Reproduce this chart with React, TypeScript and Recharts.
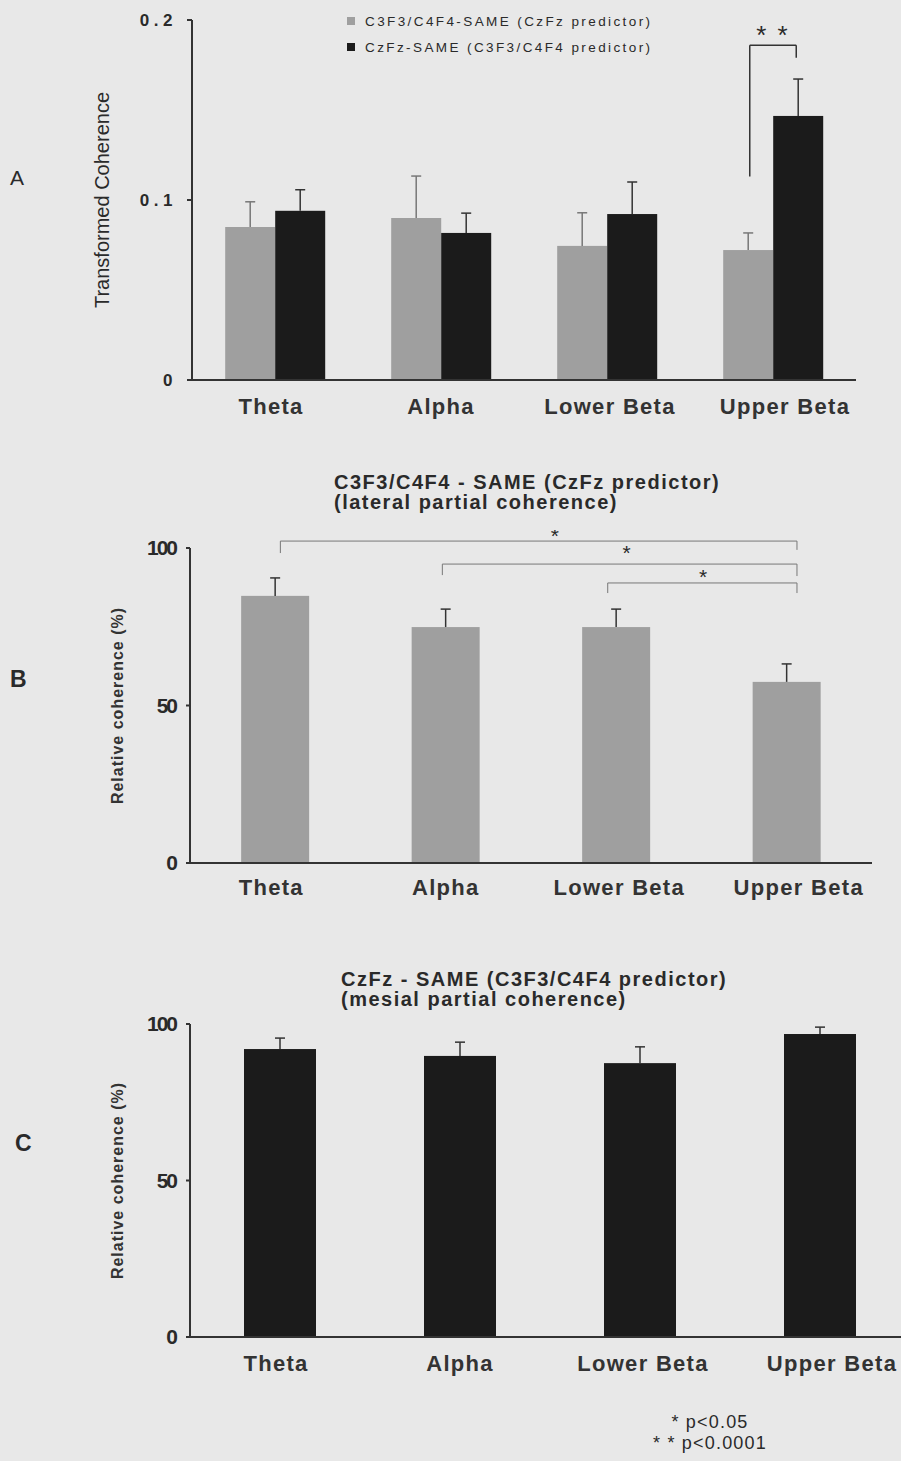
import React from 'react';
import {
  BarChart,
  Bar,
  XAxis,
  YAxis,
  Legend,
  ReferenceLine,
  ReferenceDot,
} from 'recharts';

const FONT = '"Liberation Sans", Arial, sans-serif';
const BG = '#e8e8e8';
const INK = '#2a2a2a';
const GREY_BAR = '#9f9f9f';
const BLACK_BAR = '#1b1b1b';

// frequency bands
const bands = ['Theta', 'Alpha', 'Lower Beta', 'Upper Beta'];

// panel A: transformed coherence
const lateralCoh = [0.085, 0.09, 0.0745, 0.0722];
const lateralCohErr = [0.014, 0.0233, 0.0184, 0.0095];
const mesialCoh = [0.094, 0.0817, 0.0922, 0.1467];
const mesialCohErr = [0.0117, 0.011, 0.0178, 0.0205];

// panel B: lateral partial coherence (%)
const lateralPartial = [84.8, 74.9, 74.9, 57.5];
const lateralPartialErr = [5.7, 5.7, 5.7, 5.7];

// panel C: mesial partial coherence (%)
const mesialPartial = [92, 89.8, 87.5, 96.8];
const mesialPartialErr = [3.5, 4.4, 5.2, 2.2];

const dataA = bands.map((band, i) => ({
  band,
  lat: lateralCoh[i],
  latErr: lateralCohErr[i],
  mes: mesialCoh[i],
  mesErr: mesialCohErr[i],
}));
const dataB = bands.map((band, i) => ({ band, v: lateralPartial[i], err: lateralPartialErr[i] }));
const dataC = bands.map((band, i) => ({ band, v: mesialPartial[i], err: mesialPartialErr[i] }));

// small horizontal nudges of the category labels, as typeset in the figure
const LABEL_NUDGE: Record<string, number> = { Theta: -4, Alpha: 0, 'Lower Beta': 3, 'Upper Beta': 12 };

// the hidden annotation axis spans the row-index range [0, n-1] over the plot,
// so convert "band units" (0..n across the plot) into it
const ann = (u: number) => (u * (bands.length - 1)) / bands.length;

// bar with an upper-only error whisker
function errShape(errKey: string, errStroke: string) {
  return (props: any) => {
    const { x, y, width, height, fill, payload, value } = props;
    const v = Array.isArray(value) ? value[1] - value[0] : value;
    const err = payload[errKey];
    const top = y - (v ? (err * height) / v : 0);
    const cx = x + width / 2;
    return (
      <g>
        <rect x={x} y={y} width={width} height={height} fill={fill} />
        <line x1={cx} x2={cx} y1={y} y2={top} stroke={errStroke} strokeWidth={1.5} />
        <line x1={cx - 5} x2={cx + 5} y1={top} y2={top} stroke={errStroke} strokeWidth={1.5} />
      </g>
    );
  };
}

// asterisk glyphs sit high in the em box, so push them down a bit
const star = (size: number, text: string, spacing = 0) => (p: any) => (
  <text
    x={p.cx}
    y={p.cy + size * 0.35}
    textAnchor="middle"
    fontSize={size}
    fontFamily={FONT}
    letterSpacing={spacing}
    fill={INK}
  >
    {text}
  </text>
);

function BandTick(props: any) {
  const { x, y, payload } = props;
  const dx = LABEL_NUDGE[payload.value] || 0;
  return (
    <text
      x={x + dx}
      y={y}
      dy="0.71em"
      textAnchor="middle"
      fill="#333"
      fontSize={22}
      fontWeight="bold"
      fontFamily={FONT}
      letterSpacing={1.3}
    >
      {payload.value}
    </text>
  );
}

const axisLine = { stroke: '#333', strokeWidth: 2 };

function LegendA({ payload }: any) {
  return (
    <div style={{ fontFamily: FONT, fontSize: 13.5, letterSpacing: 2.4, color: INK }}>
      {(payload || []).map((item: any) => (
        <div key={item.value} style={{ display: 'flex', alignItems: 'center', height: 26 }}>
          <span
            style={{ width: 8, height: 8, background: item.color, marginRight: 10, display: 'inline-block' }}
          />
          <span>{item.value}</span>
        </div>
      ))}
    </div>
  );
}

// "**" bracket between the two Upper Beta bars (x in band units)
const bracketA = { left: 3.36, right: 3.64, low: 0.113, top: 0.186, rightEnd: 0.179, starY: 0.192 };

function PanelA() {
  const b = bracketA;
  return (
    <BarChart
      width={901}
      height={420}
      data={dataA}
      margin={{ top: 20, right: 45, left: 92, bottom: 0 }}
      barCategoryGap="20%"
      barGap={0}
    >
      <XAxis
        dataKey="band"
        height={40}
        interval={0}
        tickLine={false}
        tickSize={0}
        tickMargin={18}
        axisLine={axisLine}
        tick={<BandTick />}
      />
      <XAxis xAxisId="ann" type="number" hide />
      <YAxis
        width={100}
        domain={[0, 0.2]}
        ticks={[0, 0.1, 0.2]}
        tickFormatter={(v: number) => (v === 0 ? '0' : v.toFixed(1))}
        tickSize={5}
        tickMargin={10}
        axisLine={axisLine}
        tickLine={{ stroke: '#333', strokeWidth: 2 }}
        tick={{ fill: INK, fontSize: 17, fontWeight: 'bold', fontFamily: FONT, letterSpacing: 4.5 }}
        label={{
          value: 'Transformed Coherence',
          angle: -90,
          position: 'insideLeft',
          offset: 10,
          style: { textAnchor: 'middle', fontFamily: FONT, fontSize: 20, fill: INK },
        }}
      />
      <Legend
        layout="vertical"
        align="center"
        verticalAlign="middle"
        wrapperStyle={{ top: 8, left: 347, width: 330 }}
        content={LegendA}
      />
      <Bar
        dataKey="lat"
        name="C3F3/C4F4-SAME (CzFz predictor)"
        fill={GREY_BAR}
        shape={errShape('latErr', '#777')}
        isAnimationActive={false}
      />
      <Bar
        dataKey="mes"
        name="CzFz-SAME (C3F3/C4F4 predictor)"
        fill={BLACK_BAR}
        shape={errShape('mesErr', '#333')}
        isAnimationActive={false}
      />
      <ReferenceLine
        xAxisId="ann"
        ifOverflow="visible"
        stroke="#333"
        strokeWidth={1.5}
        segment={[{ x: ann(b.left), y: b.low }, { x: ann(b.left), y: b.top }]}
      />
      <ReferenceLine
        xAxisId="ann"
        ifOverflow="visible"
        stroke="#333"
        strokeWidth={1.5}
        segment={[{ x: ann(b.left), y: b.top }, { x: ann(b.right), y: b.top }]}
      />
      <ReferenceLine
        xAxisId="ann"
        ifOverflow="visible"
        stroke="#333"
        strokeWidth={1.5}
        segment={[{ x: ann(b.right), y: b.top }, { x: ann(b.right), y: b.rightEnd }]}
      />
      <ReferenceDot
        xAxisId="ann"
        x={ann((b.left + b.right) / 2)}
        y={b.starY}
        r={0}
        ifOverflow="visible"
        shape={star(26, '* *', 2)}
      />
    </BarChart>
  );
}

// significance brackets of panel B (x in band units, y in %)
const bracketsB = [
  { from: 0.53, to: 3.56, y: 102.2, leftEnd: 98.4, rightEnd: 99.4, starX: 2.14, starY: 104 },
  { from: 1.48, to: 3.56, y: 94.9, leftEnd: 91.4, rightEnd: 91.1, starX: 2.56, starY: 98.4 },
  { from: 2.45, to: 3.56, y: 88.9, leftEnd: 85.7, rightEnd: 85.7, starX: 3.01, starY: 91 },
];

function PartialPanel({
  data,
  fill,
  width,
  height,
  margin,
  tickMargin,
  brackets,
}: {
  data: any[];
  fill: string;
  width: number;
  height: number;
  margin: any;
  tickMargin: number;
  brackets?: typeof bracketsB;
}) {
  return (
    <BarChart width={width} height={height} data={data} margin={margin} barCategoryGap="30%">
      <XAxis
        dataKey="band"
        height={40}
        interval={0}
        tickLine={false}
        tickSize={0}
        tickMargin={tickMargin}
        axisLine={axisLine}
        tick={<BandTick />}
      />
      <XAxis xAxisId="ann" type="number" hide />
      <YAxis
        width={100}
        domain={[0, 100]}
        ticks={[0, 50, 100]}
        tickSize={4}
        tickMargin={10}
        axisLine={axisLine}
        tickLine={{ stroke: '#333', strokeWidth: 2 }}
        tick={{ fill: INK, fontSize: 21, fontWeight: 'bold', fontFamily: FONT, letterSpacing: -2 }}
        label={{
          value: 'Relative coherence (%)',
          angle: -90,
          position: 'insideLeft',
          offset: 27,
          style: {
            textAnchor: 'middle',
            fontFamily: FONT,
            fontSize: 16,
            fontWeight: 'bold',
            letterSpacing: 1,
            fill: '#333',
          },
        }}
      />
      <Bar dataKey="v" fill={fill} shape={errShape('err', '#333')} isAnimationActive={false} />
      {(brackets || []).map((b, i) => (
        <ReferenceLine
          key={`h${i}`}
          xAxisId="ann"
          ifOverflow="visible"
          stroke="#777"
          segment={[{ x: ann(b.from), y: b.y }, { x: ann(b.to), y: b.y }]}
        />
      ))}
      {(brackets || []).map((b, i) => (
        <ReferenceLine
          key={`l${i}`}
          xAxisId="ann"
          ifOverflow="visible"
          stroke="#777"
          segment={[{ x: ann(b.from), y: b.y }, { x: ann(b.from), y: b.leftEnd }]}
        />
      ))}
      {(brackets || []).map((b, i) => (
        <ReferenceLine
          key={`r${i}`}
          xAxisId="ann"
          ifOverflow="visible"
          stroke="#777"
          segment={[{ x: ann(b.to), y: b.y }, { x: ann(b.to), y: b.rightEnd }]}
        />
      ))}
      {(brackets || []).map((b, i) => (
        <ReferenceDot
          key={`s${i}`}
          xAxisId="ann"
          x={ann(b.starX)}
          y={b.starY}
          r={0}
          ifOverflow="visible"
          shape={star(21, '*')}
        />
      ))}
    </BarChart>
  );
}

const abs = (left: number, top: number, extra: React.CSSProperties = {}): React.CSSProperties => ({
  position: 'absolute',
  left,
  top,
  fontFamily: FONT,
  color: INK,
  whiteSpace: 'nowrap',
  ...extra,
});

const titleStyle: React.CSSProperties = {
  fontSize: 20,
  fontWeight: 'bold',
  lineHeight: '20px',
  letterSpacing: 1.5,
};

export default function App() {
  return (
    <div
      style={{
        position: 'absolute',
        left: 0,
        top: 0,
        width: 901,
        height: 1461,
        background: BG,
        overflow: 'hidden',
      }}
    >
      <div style={abs(0, 0)}>
        <PanelA />
      </div>
      <div style={abs(10, 166, { fontSize: 21 })}>A</div>

      <div style={abs(334, 472, titleStyle)}>
        C3F3/C4F4 - SAME (CzFz predictor)
        <br />
        (lateral partial coherence)
      </div>
      <div style={abs(0, 530)}>
        <PartialPanel
          data={dataB}
          fill={GREY_BAR}
          width={901}
          height={380}
          margin={{ top: 18, right: 29, left: 90, bottom: 7 }}
          tickMargin={16}
          brackets={bracketsB}
        />
      </div>
      <div style={abs(10, 666, { fontSize: 23, fontWeight: 'bold' })}>B</div>

      <div style={abs(341, 969, titleStyle)}>
        CzFz - SAME (C3F3/C4F4 predictor)
        <br />
        (mesial partial coherence)
      </div>
      <div style={abs(0, 1000)}>
        <PartialPanel
          data={dataC}
          fill={BLACK_BAR}
          width={920}
          height={400}
          margin={{ top: 24, right: 10, left: 90, bottom: 23 }}
          tickMargin={18}
        />
      </div>
      <div style={abs(15, 1130, { fontSize: 23, fontWeight: 'bold' })}>C</div>

      <div
        style={abs(630, 1412, {
          width: 160,
          textAlign: 'center',
          fontSize: 18,
          lineHeight: '21px',
          letterSpacing: 1.2,
        })}
      >
        * p&lt;0.05
        <br />* * p&lt;0.0001
      </div>
    </div>
  );
}
